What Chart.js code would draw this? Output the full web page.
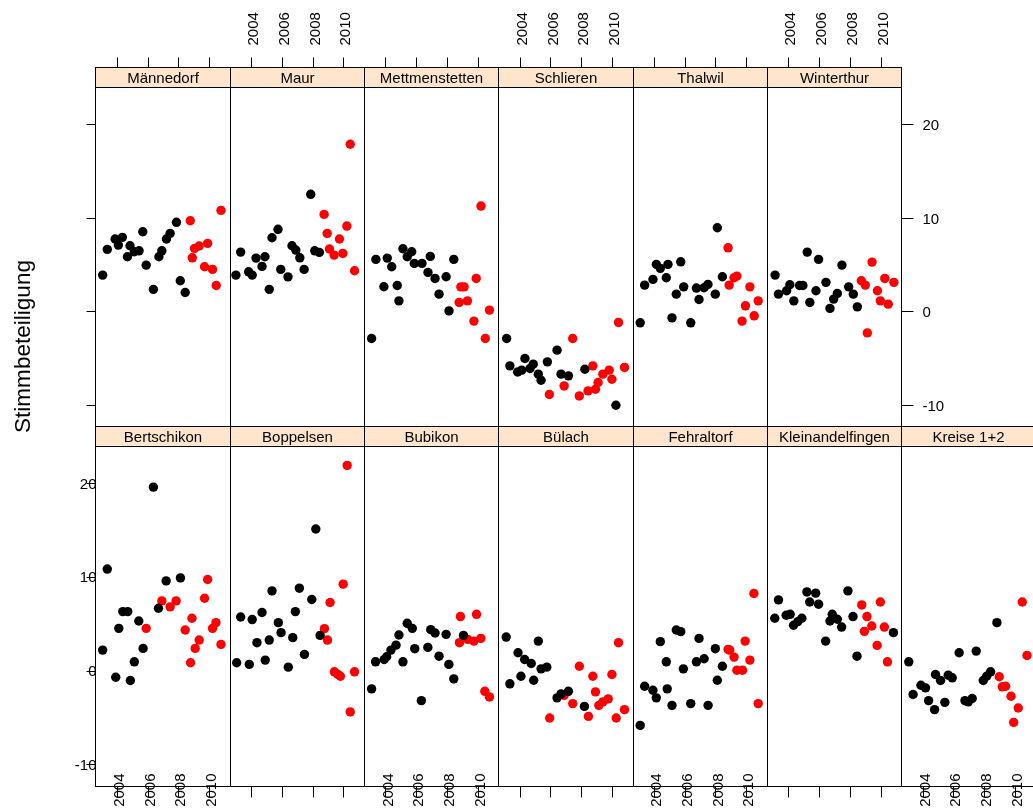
<!DOCTYPE html>
<html>
<head>
<meta charset="utf-8">
<script src="https://cdn.jsdelivr.net/npm/chart.js@4"></script>
<style>
  body { margin: 0; background: #fff; overflow: hidden; }
  #wrap { position: relative; width: 1033px; height: 809px; overflow: hidden; }
  #wrap canvas { position: absolute; left: 0; top: 0; }
</style>
</head>
<body>
<div id="wrap"></div>
<script>
// tick labels
const yearTicks = [2004, 2006, 2008, 2010];
const valueTicks = [-10, 0, 10, 20];

// panel names (top row, bottom row)
const topRow = ['Männedorf', 'Maur', 'Mettmenstetten', 'Schlieren', 'Thalwil', 'Winterthur'];
const bottomRow = ['Bertschikon', 'Boppelsen', 'Bubikon', 'Bülach', 'Fehraltorf', 'Kleinandelfingen', 'Kreise 1+2'];

// [year, Stimmbeteiligung] - black and red points per Gemeinde
const maennedorfBlack = [[2003.08,3.86],[2003.38,6.61],[2003.89,7.72],[2004.10,7.07],[2004.36,7.90],[2004.69,5.82],[2004.86,7.00],[2005.14,6.36],[2005.45,6.46],[2005.69,8.50],[2005.91,4.93],[2006.38,2.33],[2006.74,5.82],[2006.93,6.46],[2007.23,7.72],[2007.47,8.33],[2007.88,9.51],[2008.13,3.25],[2008.45,2.00]];
const maennedorfRed = [[2008.78,9.68],[2008.91,5.71],[2009.06,6.72],[2009.36,6.97],[2009.71,4.75],[2009.91,7.26],[2010.23,4.47],[2010.47,2.75],[2010.78,10.79]];

const maurBlack = [[2003.01,3.86],[2003.32,6.32],[2003.84,4.21],[2004.07,3.86],[2004.32,5.68],[2004.71,4.79],[2004.90,5.82],[2005.18,2.33],[2005.36,7.86],[2005.75,8.76],[2005.93,4.47],[2006.40,3.67],[2006.66,7.00],[2006.91,6.54],[2007.17,5.71],[2007.45,4.47],[2007.88,12.51],[2008.14,6.46],[2008.44,6.29]];
const maurRed = [[2008.75,10.36],[2008.95,8.33],[2009.10,6.65],[2009.40,6.00],[2009.75,7.72],[2009.97,6.18],[2010.23,9.11],[2010.45,17.87],[2010.73,4.32]];

const mettmenstettenBlack = [[2003.10,-2.93],[2003.38,5.54],[2003.90,2.61],[2004.12,5.68],[2004.41,4.75],[2004.77,2.75],[2004.88,1.10],[2005.14,6.68],[2005.42,5.82],[2005.71,6.36],[2005.88,5.11],[2006.38,5.11],[2006.77,4.15],[2006.92,5.86],[2007.23,3.50],[2007.49,1.82],[2007.95,3.68],[2008.14,0.03],[2008.45,5.54]];
const mettmenstettenRed = [[2008.80,0.93],[2008.91,2.60],[2009.12,2.60],[2009.34,1.10],[2009.76,-1.07],[2009.91,3.50],[2010.22,11.25],[2010.50,-2.93],[2010.77,0.11]];

const schlierenBlack = [[2003.15,-2.93],[2003.36,-5.86],[2003.87,-6.51],[2004.13,-6.32],[2004.34,-5.07],[2004.67,-6.14],[2004.88,-5.68],[2005.21,-6.75],[2005.39,-7.40],[2005.80,-5.43],[2006.43,-4.18],[2006.69,-6.75],[2007.17,-6.93],[2008.24,-6.22],[2010.26,-10.08]];
const schlierenRed = [[2005.93,-8.93],[2006.89,-8.01],[2007.45,-2.93],[2007.88,-9.08],[2008.45,-8.54],[2008.76,-5.86],[2008.93,-8.36],[2009.10,-7.64],[2009.41,-6.75],[2009.82,-6.32],[2010.00,-7.29],[2010.43,-1.21],[2010.82,-6.03]];

const thalwilBlack = [[2003.10,-1.25],[2003.39,2.79],[2003.93,3.40],[2004.15,5.01],[2004.41,4.58],[2004.80,3.57],[2004.91,5.01],[2005.17,-0.72],[2005.45,1.82],[2005.74,5.28],[2005.93,2.60],[2006.39,-1.25],[2006.76,2.47],[2006.93,1.25],[2007.26,2.50],[2007.51,2.86],[2007.99,1.82],[2008.12,8.93],[2008.45,3.68]];
const thalwilRed = [[2008.82,6.78],[2008.89,2.79],[2009.21,3.57],[2009.39,3.75],[2009.73,-1.07],[2009.95,0.57],[2010.24,2.60],[2010.52,-0.50],[2010.78,1.10]];

const winterthurBlack = [[2003.14,3.86],[2003.36,1.82],[2003.89,2.18],[2004.10,2.82],[2004.36,1.10],[2004.73,2.75],[2004.95,2.75],[2005.23,6.32],[2005.40,0.93],[2005.80,2.18],[2005.97,5.54],[2006.45,3.08],[2006.71,0.29],[2006.95,1.29],[2007.19,1.90],[2007.49,4.93],[2007.93,2.60],[2008.23,1.82],[2008.49,0.46]];
const winterthurRed = [[2008.75,3.25],[2009.01,2.79],[2009.14,-2.33],[2009.45,5.25],[2009.80,2.18],[2009.99,1.10],[2010.28,3.50],[2010.50,0.75],[2010.87,3.08]];

const bertschikonBlack = [[2003.08,2.21],[2003.38,10.86],[2003.93,-0.69],[2004.13,4.53],[2004.39,6.32],[2004.71,6.32],[2004.88,-1.04],[2005.14,0.96],[2005.43,5.32],[2005.71,2.39],[2006.38,19.61],[2006.71,6.68],[2007.21,9.60],[2008.14,9.92]];
const bertschikonRed = [[2005.91,4.53],[2006.93,7.46],[2007.47,6.82],[2007.86,7.46],[2008.45,4.35],[2008.80,0.86],[2008.89,5.61],[2009.10,2.39],[2009.36,3.28],[2009.71,7.75],[2009.91,9.75],[2010.23,4.53],[2010.45,5.14],[2010.78,2.82]];

const boppelsenBlack = [[2003.06,0.86],[2003.32,5.74],[2003.88,0.68],[2004.07,5.47],[2004.38,3.00],[2004.71,6.22],[2004.92,1.14],[2005.18,3.28],[2005.36,8.53],[2005.77,5.14],[2005.95,4.07],[2006.42,0.39],[2006.71,3.54],[2006.88,6.32],[2007.14,8.82],[2007.47,1.75],[2007.95,7.61],[2008.21,15.14],[2008.49,3.78]];
const boppelsenRed = [[2008.77,4.50],[2008.97,3.28],[2009.14,7.29],[2009.42,-0.11],[2009.65,-0.40],[2009.81,-0.58],[2009.99,9.25],[2010.25,21.93],[2010.45,-4.39],[2010.73,-0.11]];

const bubikonBlack = [[2003.10,-1.93],[2003.36,0.96],[2003.92,1.21],[2004.08,1.50],[2004.36,2.21],[2004.69,2.74],[2004.88,3.82],[2005.14,0.96],[2005.42,5.07],[2005.75,4.53],[2005.91,2.36],[2006.34,-3.18],[2006.76,2.50],[2006.95,4.39],[2007.23,4.03],[2007.49,1.56],[2007.95,3.89],[2008.13,0.68],[2008.45,-0.86],[2009.08,3.78]];
const bubikonRed = [[2008.82,3.00],[2008.88,5.79],[2009.36,3.35],[2009.76,3.17],[2009.93,6.03],[2010.21,3.46],[2010.47,-2.19],[2010.77,-2.79]];

const buelachBlack = [[2003.12,3.60],[2003.36,-1.39],[2003.89,1.93],[2004.08,-0.58],[2004.32,1.21],[2004.75,0.78],[2004.91,-1.01],[2005.21,3.17],[2005.39,0.21],[2005.76,0.39],[2006.43,-2.89],[2006.69,-2.47],[2007.17,-2.19],[2008.21,-3.80]];
const buelachRed = [[2005.95,-5.04],[2006.89,-2.62],[2007.45,-3.50],[2007.88,0.49],[2008.47,-4.87],[2008.76,-0.58],[2008.93,-2.25],[2009.15,-3.69],[2009.41,-3.32],[2009.76,-3.00],[2010.00,-0.40],[2010.28,-5.04],[2010.43,3.00],[2010.82,-4.15]];

const fehraltorfBlack = [[2003.10,-5.83],[2003.39,-1.65],[2003.93,-2.08],[2004.15,-2.89],[2004.41,3.11],[2004.80,0.96],[2004.86,-1.93],[2005.17,-3.69],[2005.45,4.35],[2005.74,4.18],[2005.91,0.21],[2006.39,-3.50],[2006.76,0.96],[2006.93,3.46],[2007.26,1.29],[2007.52,-3.69],[2007.99,2.36],[2008.12,-1.01],[2008.45,0.49]];
const fehraltorfRed = [[2008.82,2.28],[2008.93,2.21],[2009.21,1.46],[2009.39,0.06],[2009.76,0.06],[2009.93,3.17],[2010.24,1.14],[2010.50,8.25],[2010.78,-3.50]];

const kleinandelfingenBlack = [[2003.12,5.61],[2003.36,7.57],[2003.86,5.93],[2004.12,6.03],[2004.34,4.86],[2004.62,5.25],[2004.88,5.61],[2005.21,8.42],[2005.39,7.35],[2005.78,8.29],[2005.97,7.11],[2006.43,3.17],[2006.71,5.32],[2006.86,6.03],[2007.19,5.50],[2007.47,4.67],[2007.88,8.53],[2008.21,5.79],[2008.47,1.56],[2010.84,4.07]];
const kleinandelfingenRed = [[2008.78,7.03],[2008.95,4.21],[2009.12,5.79],[2009.43,4.78],[2009.78,2.71],[2009.99,7.35],[2010.25,4.67],[2010.45,0.96]];

const kreiseBlack = [[2003.10,0.96],[2003.38,-2.53],[2003.89,-1.54],[2004.19,-1.82],[2004.39,-3.18],[2004.78,-4.15],[2004.84,-0.40],[2005.17,-1.04],[2005.45,-3.37],[2005.67,-0.47],[2005.93,-0.75],[2006.38,1.93],[2006.76,-3.18],[2006.97,-3.32],[2007.23,-2.96],[2007.49,2.10],[2007.95,-1.04],[2008.17,-0.58],[2008.43,-0.11],[2008.84,5.14]];
const kreiseRed = [[2008.99,-0.64],[2009.19,-1.71],[2009.41,-1.65],[2009.76,-2.72],[2009.93,-5.51],[2010.23,-3.97],[2010.49,7.35],[2010.80,1.64]];

const topData = [
  [maennedorfBlack, maennedorfRed], [maurBlack, maurRed], [mettmenstettenBlack, mettmenstettenRed],
  [schlierenBlack, schlierenRed], [thalwilBlack, thalwilRed], [winterthurBlack, winterthurRed]
];
const bottomData = [
  [bertschikonBlack, bertschikonRed], [boppelsenBlack, boppelsenRed], [bubikonBlack, bubikonRed],
  [buelachBlack, buelachRed], [fehraltorfBlack, fehraltorfRed],
  [kleinandelfingenBlack, kleinandelfingenRed], [kreiseBlack, kreiseRed]
];

// layout
const XMIN = 2002.6, XMAX = 2011.34, YMIN = -12.3, YMAX = 24.0;
const COL0 = 95.3, COLW = 134.3;
const rows = [{ top: 87, bottom: 426 }, { top: 446, bottom: 786 }];
const CW = 1040, CH = 820;
const FONT = '"Liberation Sans", Arial, Helvetica, sans-serif';
const wrap = document.getElementById('wrap');

// strip, frame, ticks (positions from the chart scales)
const panelFrame = {
  id: 'panelFrame',
  afterDatasetsDraw(chart, args, o) {
    const { ctx, chartArea: a, scales: { x, y } } = chart;
    const L = Math.round(a.left) + 0.5, R = Math.round(a.right) + 0.5;
    const T = Math.round(a.top) + 0.5, B = Math.round(a.bottom) + 0.5;
    ctx.save();
    ctx.lineWidth = 1;
    ctx.strokeStyle = '#000';
    ctx.fillStyle = '#ffe5cc';
    ctx.fillRect(L, T - 20, R - L, 20);
    ctx.strokeRect(L, T - 20, R - L, 20);
    ctx.strokeRect(L, T, R - L, B - T);
    ctx.fillStyle = '#000';
    ctx.font = '15px ' + FONT;
    ctx.textAlign = 'center';
    ctx.textBaseline = 'middle';
    ctx.fillText(o.name, (L + R) / 2, T - 9);

    ctx.beginPath();
    yearTicks.forEach(v => {
      const px = Math.round(x.getPixelForValue(v)) + 0.5;
      if (o.topTicks) { ctx.moveTo(px, T - 20); ctx.lineTo(px, T - 30); }
      if (o.bottomTicks) { ctx.moveTo(px, B); ctx.lineTo(px, B + 11); }
    });
    valueTicks.forEach(v => {
      const py = Math.round(y.getPixelForValue(v)) + 0.5;
      if (o.leftTicks) { ctx.moveTo(L - 9, py); ctx.lineTo(L, py); }
      if (o.rightTicks) { ctx.moveTo(R, py); ctx.lineTo(R + 12, py); }
    });
    ctx.stroke();

    ctx.font = '15px ' + FONT;
    ctx.textBaseline = 'middle';
    yearTicks.forEach(v => {
      const px = x.getPixelForValue(v);
      if (o.topLabels) {
        ctx.save();
        ctx.translate(px + 3, T - 42);
        ctx.rotate(-Math.PI / 2);
        ctx.textAlign = 'left';
        ctx.fillText(String(v), 0, 0);
        ctx.restore();
      }
      if (o.bottomLabels) {
        ctx.save();
        ctx.translate(px + 3, B - 13);
        ctx.rotate(-Math.PI / 2);
        ctx.textAlign = 'right';
        ctx.fillText(String(v), 0, 0);
        ctx.restore();
      }
    });
    valueTicks.forEach(v => {
      const py = y.getPixelForValue(v);
      if (o.leftLabels) { ctx.textAlign = 'right'; ctx.fillText(String(v), L + 1, py + 1); }
      if (o.rightLabels) { ctx.textAlign = 'left'; ctx.fillText(String(v), R + 21, py + 2); }
    });
    ctx.restore();
  }
};

// y axis title
const yTitle = {
  id: 'yTitle',
  afterDraw(chart) {
    const ctx = chart.ctx;
    const txt = 'Stimmbeteiligung';
    ctx.save();
    ctx.font = '22px ' + FONT;
    const w = ctx.measureText(txt).width;
    ctx.translate(30, 346.5);
    ctx.rotate(-Math.PI / 2);
    ctx.scale(173 / w, 1);
    ctx.fillStyle = '#000';
    ctx.textAlign = 'center';
    ctx.textBaseline = 'alphabetic';
    ctx.fillText(txt, 0, 0);
    ctx.restore();
  }
};

function toPoints(arr) {
  return arr.map(([x, y]) => ({ x, y }));
}

function makePanel(name, pair, row, col, flags, extra) {
  const left = COL0 + COLW * col, right = left + COLW;
  const { top, bottom } = rows[row];
  const canvas = document.createElement('canvas');
  canvas.width = CW;
  canvas.height = CH;
  wrap.appendChild(canvas);
  return new Chart(canvas, {
    type: 'scatter',
    data: {
      datasets: [
        { data: toPoints(pair[0]), backgroundColor: '#000000', borderColor: '#000000', pointRadius: 4.7, pointBorderWidth: 0 },
        { data: toPoints(pair[1]), backgroundColor: '#ff0000', borderColor: '#ff0000', pointRadius: 4.7, pointBorderWidth: 0 }
      ]
    },
    options: {
      responsive: false,
      animation: false,
      events: [],
      layout: { padding: { left: left, right: CW - right, top: top, bottom: CH - bottom } },
      scales: {
        x: { type: 'linear', min: XMIN, max: XMAX, display: false },
        y: { type: 'linear', min: YMIN, max: YMAX, display: false }
      },
      plugins: {
        legend: { display: false },
        tooltip: { enabled: false },
        panelFrame: Object.assign({ name: name }, flags)
      }
    },
    plugins: extra ? [panelFrame, extra] : [panelFrame]
  });
}

topRow.forEach((name, i) => {
  makePanel(name, topData[i], 0, i, {
    topTicks: true,
    topLabels: i % 2 === 1,
    leftTicks: i === 0,
    rightTicks: i === topRow.length - 1,
    rightLabels: i === topRow.length - 1
  }, i === 0 ? yTitle : null);
});

bottomRow.forEach((name, i) => {
  makePanel(name, bottomData[i], 1, i, {
    bottomTicks: true,
    bottomLabels: i % 2 === 0,
    leftTicks: i === 0,
    leftLabels: i === 0
  });
});
</script>
</body>
</html>
